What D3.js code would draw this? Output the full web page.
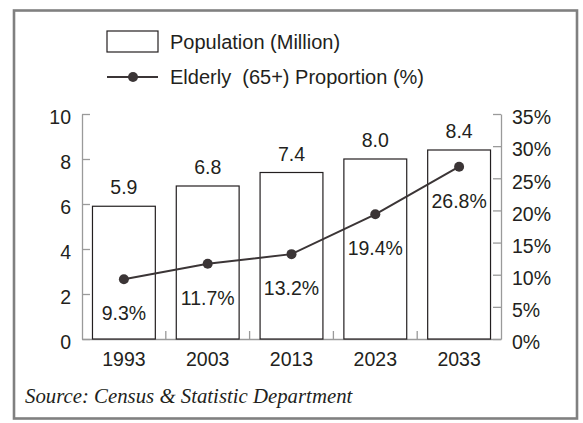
<!DOCTYPE html>
<html>
<head>
<meta charset="utf-8">
<script src="https://cdn.jsdelivr.net/npm/d3@7/dist/d3.min.js"></script>
<style>
  html, body { margin: 0; padding: 0; background: #fff; }
  svg { display: block; }
  text { font-family: "Liberation Sans", Arial, sans-serif; fill: #231f20; white-space: pre; }
  .source { font-family: "Liberation Serif", "Times New Roman", serif; font-style: italic; }
</style>
</head>
<body>
<svg id="chart" width="583" height="423"></svg>
<script>
// Population and ageing data
const years = ["1993", "2003", "2013", "2023", "2033"];
const population = [5.9, 6.8, 7.4, 8.0, 8.4];          // millions
const elderlyShare = [9.3, 11.7, 13.2, 19.4, 26.8];     // percent aged 65+
const leftTicks = [0, 2, 4, 6, 8, 10];
const rightTicks = [0, 5, 10, 15, 20, 25, 30, 35];
const legendLabels = ["Population (Million)", "Elderly  (65+) Proportion (%)"];
const sourceNote = "Source: Census & Statistic Department";

const svg = d3.select("#chart");
const axisColor = "#9a9a9a";
const inkColor = "#3b3536";
const textColor = "#2a2627";

// outer frame
svg.append("rect")
  .attr("x", 14).attr("y", 10.5)
  .attr("width", 563).attr("height", 408)
  .attr("fill", "none").attr("stroke", "#808080").attr("stroke-width", 2.6);

const plot = { left: 82, right: 501, top: 114, bottom: 339 };

const x = d3.scaleBand()
  .domain(years)
  .range([plot.left, plot.right])
  .paddingInner(0.25)
  .paddingOuter(0.125);

const yPop = d3.scaleLinear().domain([0, 10]).range([plot.bottom, plot.top]);
const yPct = d3.scaleLinear().domain([0, 35]).range([plot.bottom, plot.top]);

const fontSize = 19.5;

// left axis (population)
const gLeft = svg.append("g")
  .attr("transform", `translate(${plot.left},0)`)
  .call(d3.axisLeft(yPop).tickValues(leftTicks).tickSize(-8).tickSizeOuter(0).tickPadding(11));

// right axis (percentage)
const gRight = svg.append("g")
  .attr("transform", `translate(${plot.right},0)`)
  .call(d3.axisRight(yPct).tickValues(rightTicks).tickSize(-8).tickSizeOuter(0).tickPadding(11)
    .tickFormat(d => d + "%"));

// bottom axis (years)
const gBottom = svg.append("g")
  .attr("transform", `translate(0,${plot.bottom})`)
  .call(d3.axisBottom(x).tickSize(0).tickPadding(13));

[gLeft, gRight, gBottom].forEach(g => {
  g.select(".domain").attr("stroke", axisColor).attr("stroke-width", 1.3);
  g.selectAll(".tick line").attr("stroke", axisColor).attr("stroke-width", 1.3);
  g.selectAll("text")
    .attr("font-size", fontSize)
    .attr("font-family", "Liberation Sans, Arial, sans-serif")
    .attr("fill", textColor);
});
gLeft.selectAll("text").attr("dy", "0.5em");
gRight.selectAll("text").attr("dy", "0.5em");

// small separators between year groups
const gap = x.step() * x.paddingInner();
svg.append("g").selectAll("line")
  .data(years.slice(1))
  .join("line")
  .attr("x1", d => x(d) - gap / 2).attr("x2", d => x(d) - gap / 2)
  .attr("y1", plot.bottom - 8).attr("y2", plot.bottom)
  .attr("stroke", axisColor).attr("stroke-width", 1.3);

// population bars
svg.append("g").selectAll("rect")
  .data(years)
  .join("rect")
  .attr("x", d => x(d))
  .attr("y", (d, i) => yPop(population[i]))
  .attr("width", x.bandwidth())
  .attr("height", (d, i) => yPop(0) - yPop(population[i]))
  .attr("fill", "#fff")
  .attr("stroke", "#231f20")
  .attr("stroke-width", 1.2);

// population value labels
svg.append("g").selectAll("text")
  .data(years)
  .join("text")
  .attr("x", d => x(d) + x.bandwidth() / 2)
  .attr("y", (d, i) => yPop(population[i]) - 12)
  .attr("text-anchor", "middle")
  .attr("font-size", fontSize)
  .attr("fill", textColor)
  .text((d, i) => population[i].toFixed(1));

// elderly proportion line
const line = d3.line()
  .x(d => x(d.year) + x.bandwidth() / 2)
  .y(d => yPct(d.value));
const pts = years.map((year, i) => ({ year, value: elderlyShare[i] }));

svg.append("path")
  .datum(pts)
  .attr("d", line)
  .attr("fill", "none")
  .attr("stroke", inkColor)
  .attr("stroke-width", 2);

svg.append("g").selectAll("circle")
  .data(pts)
  .join("circle")
  .attr("cx", d => x(d.year) + x.bandwidth() / 2)
  .attr("cy", d => yPct(d.value))
  .attr("r", 5)
  .attr("fill", inkColor);

// proportion labels below points
svg.append("g").selectAll("text")
  .data(pts)
  .join("text")
  .attr("x", d => x(d.year) + x.bandwidth() / 2)
  .attr("y", d => yPct(d.value) + 41)
  .attr("text-anchor", "middle")
  .attr("font-size", fontSize)
  .attr("fill", textColor)
  .text(d => d.value.toFixed(1) + "%");

// legend
const legend = svg.append("g");
legend.append("rect")
  .attr("x", 107).attr("y", 31).attr("width", 51).attr("height", 21)
  .attr("fill", "#fff").attr("stroke", "#231f20").attr("stroke-width", 1.2);
legend.append("line")
  .attr("x1", 107).attr("x2", 158).attr("y1", 77).attr("y2", 77)
  .attr("stroke", inkColor).attr("stroke-width", 2);
legend.append("circle")
  .attr("cx", 133).attr("cy", 77).attr("r", 5).attr("fill", inkColor);
legend.selectAll("text.leg")
  .data(legendLabels)
  .join("text")
  .attr("class", "leg")
  .attr("x", 170)
  .attr("y", (d, i) => 49 + i * 34.5)
  .attr("font-size", 20)
  .attr("fill", textColor)
  .text(d => d);

// source note
svg.append("text")
  .attr("class", "source")
  .attr("x", 25).attr("y", 403)
  .attr("font-size", 20.8)
  .attr("fill", textColor)
  .text(sourceNote);
</script>
</body>
</html>
